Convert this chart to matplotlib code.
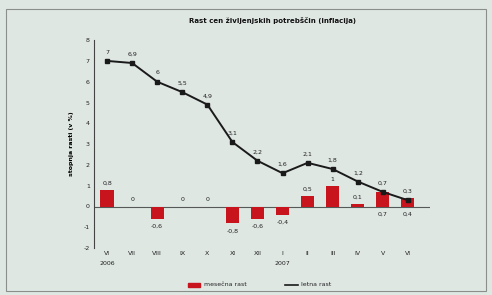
import numpy as np
import matplotlib.pyplot as plt
from matplotlib.patches import Rectangle

# Data
months = ['VI', 'VII', 'VIII', 'IX', 'X', 'XI', 'XII', 'I', 'II', 'III', 'IV', 'V', 'VI']
years = {0: '2006', 7: '2007'}
monthly = [0.8, 0.0, -0.6, 0.0, 0.0, -0.8, -0.6, -0.4, 0.5, 1.0, 0.1, 0.7, 0.4]
monthly_lbl = ['0,8', '0', '-0,6', '0', '0', '-0,8', '-0,6', '-0,4', '0,5', '1', '0,1', '0,7', '0,4']
annual = [7.0, 6.9, 6.0, 5.5, 4.9, 3.1, 2.2, 1.6, 2.1, 1.8, 1.2, 0.7, 0.3]
annual_lbl = ['7', '6,9', '6', '5,5', '4,9', '3,1', '2,2', '1,6', '2,1', '1,8', '1,2', '0,7', '0,3']

bg = '#dfe7e3'
fig = plt.figure(figsize=(4.92, 2.95), dpi=100, facecolor=bg)
fig.patches.append(Rectangle((0.012, 0.015), 0.976, 0.955, transform=fig.transFigure,
                             fill=False, edgecolor='#8a8f8c', lw=0.8))

ax = fig.add_axes([0.191, 0.159, 0.683, 0.705])
ax.set_facecolor(bg)
x = np.arange(len(months))

ax.bar(x, monthly, width=0.52, color='#c8141c', zorder=2)
ax.axhline(0, color='#555a58', lw=0.8, zorder=1)
ax.plot(x, annual, color='#1a1a1a', lw=1.4, marker='s', ms=2.5, zorder=3)

for i, (v, t) in enumerate(zip(annual, annual_lbl)):
    ax.text(i, v + 0.3, t, ha='center', va='bottom', fontsize=4.5, color='#222222')

for i, (v, t) in enumerate(zip(monthly, monthly_lbl)):
    if i >= 11 or v < 0:
        y = min(v, 0) - 0.25
        va = 'top'
    else:
        y = v + 0.2
        va = 'bottom'
    ax.text(i, y, t, ha='center', va=va, fontsize=4.5, color='#222222')

ax.set_xlim(-0.52, 12.88)
ax.set_ylim(-2, 8)
ax.set_yticks(range(-2, 9))
ax.set_yticklabels([str(v).replace('-', '-') for v in range(-2, 9)])
ax.set_xticks(x)
ax.set_xticklabels(months)
for i, yr in years.items():
    ax.text(i, -2.6, yr, ha='center', va='top', fontsize=4.5, color='#222222')

for s in ['top', 'right', 'bottom']:
    ax.spines[s].set_visible(False)
ax.spines['left'].set_color('#444444')
ax.spines['left'].set_linewidth(0.8)
ax.tick_params(axis='both', labelsize=4.5, colors='#222222', length=0, pad=3)
ax.tick_params(axis='x', pad=2)
ax.set_ylabel('stopnja rasti (v %)', fontsize=4.5, fontweight='bold', labelpad=7)

fig.text(0.553, 0.932, 'Rast cen življenjskih potrebščin (inflacija)', ha='center', va='center',
         fontsize=5, fontweight='bold', color='#111111')

# legend
fig.patches.append(Rectangle((0.382, 0.028), 0.025, 0.012, transform=fig.transFigure,
                             color='#c8141c'))
fig.text(0.415, 0.034, 'mesečna rast', fontsize=4.5, va='center', color='#222222')
fig.lines.append(plt.Line2D([0.58, 0.605], [0.034, 0.034], transform=fig.transFigure,
                            color='#1a1a1a', lw=1.2))
fig.text(0.612, 0.034, 'letna rast', fontsize=4.5, va='center', color='#222222')

fig.savefig('out.png', dpi=100, facecolor=bg)
